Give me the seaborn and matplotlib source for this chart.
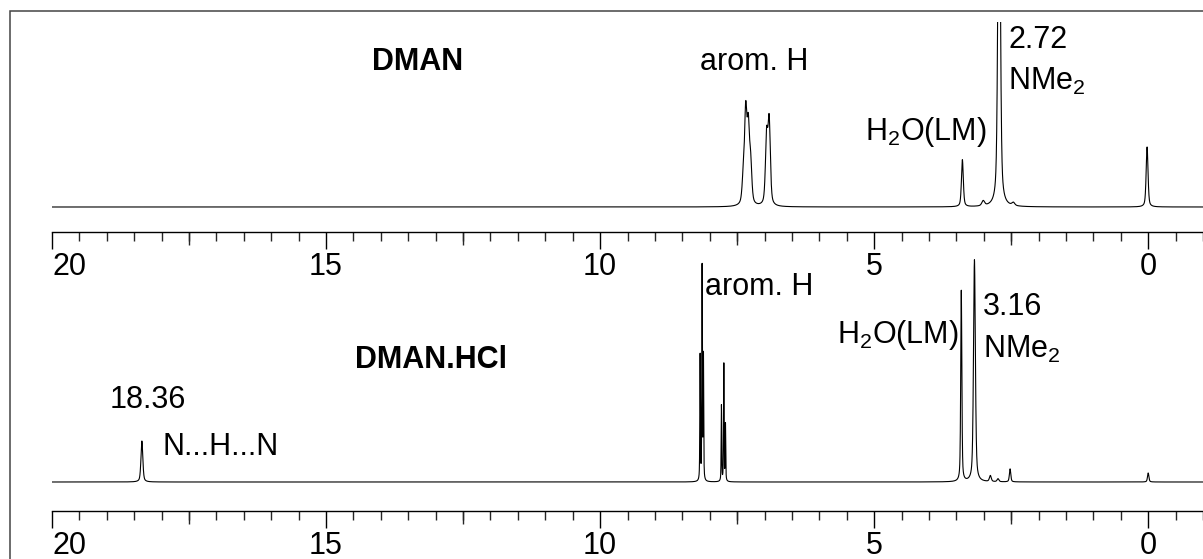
import numpy as np
import pandas as pd
import matplotlib
matplotlib.use("Agg")
import matplotlib.pyplot as plt
import seaborn as sns
from matplotlib.ticker import MultipleLocator, FixedLocator
from matplotlib.patches import Rectangle

# ---- data: peak lists (shift in ppm, height, half-width) ----
dman_shift = [7.387, 7.343, 7.296, 7.253, 6.962, 6.915, 3.39, 3.01, 2.72, 2.46, 0.02]
dman_height = [25, 89, 72, 38, 67, 82, 47, 5, 420, 3, 60]
dman_width = [0.025, 0.025, 0.025, 0.025, 0.025, 0.025, 0.02, 0.03, 0.025, 0.03, 0.02]

hcl_shift = [18.36, 8.175, 8.139, 8.115, 7.786, 7.743, 7.713, 3.41, 3.17, 2.88, 2.74, 2.52, 0.0]
hcl_height = [41, 128, 218, 126, 76, 120, 58, 191, 222, 6, 3, 13, 9]
hcl_width = [0.02, 0.006, 0.006, 0.006, 0.006, 0.006, 0.006, 0.012, 0.02, 0.02, 0.02, 0.015, 0.015]

major_ticks = [20, 15, 10, 5, 0]
tick_labels = ["20", "15", "10", "5", "0"]
medium_ticks = [17.5, 12.5, 7.5, 2.5]

ppm = np.arange(20.0, -1.0, -0.002)


def spectrum(shifts, heights, widths, eta=0.5):
    y = np.zeros_like(ppm)
    for s, h, w in zip(shifts, heights, widths):
        u = (ppm - s) / w
        y += h * (eta / (1.0 + u ** 2) + (1 - eta) * np.exp(-np.log(2) * u ** 2))
    return y


df_top = pd.DataFrame({"ppm": ppm, "I": spectrum(dman_shift, dman_height, dman_width)})
df_bot = pd.DataFrame({"ppm": ppm, "I": spectrum(hcl_shift, hcl_height, hcl_width)})

sns.set_style("white")
plt.rcParams["font.family"] = ["Liberation Sans", "DejaVu Sans"]
plt.rcParams["mathtext.fontset"] = "custom"
plt.rcParams["mathtext.rm"] = "Liberation Sans"
plt.rcParams["mathtext.it"] = "Liberation Sans:italic"
plt.rcParams["mathtext.bf"] = "Liberation Sans:bold"

W, H = 1203, 559
fig = plt.figure(figsize=(W / 100, H / 100), dpi=100)

FS = 22


def make_axes(bottom_px, top_px, baseline_px):
    left = 52 / W
    ax = fig.add_axes([left, 1 - bottom_px / H, 1 - left, (bottom_px - top_px) / H])
    ax.patch.set_alpha(0)
    ax.set_xlim(20, -1.0)
    ax.set_ylim(-(bottom_px - baseline_px), baseline_px - top_px)
    for s in ["left", "right", "top"]:
        ax.spines[s].set_visible(False)
    ax.spines["bottom"].set_linewidth(1.0)
    ax.spines["bottom"].set_color("black")
    ax.set_yticks([])
    ax.set_xticks(major_ticks)
    ax.set_xticklabels(tick_labels, fontsize=FS)
    ax.xaxis.set_minor_locator(MultipleLocator(0.5))
    ax.tick_params(axis="x", which="major", direction="out", length=12, width=1.0,
                   pad=2.4, colors="black", bottom=True)
    ax.tick_params(axis="x", which="minor", direction="out", length=6.5, width=1.0,
                   bottom=True)
    ax.get_xticklabels()[0].set_horizontalalignment("left")
    sec = ax.secondary_xaxis("bottom")
    sec.spines["bottom"].set_visible(False)
    sec.xaxis.set_major_locator(FixedLocator(medium_ticks))
    sec.tick_params(axis="x", which="major", direction="out", length=9.5, width=1.0,
                    labelbottom=False)
    sec.xaxis.set_minor_locator(FixedLocator([]))
    return ax


ax1 = make_axes(232, 22, 207)
sns.lineplot(data=df_top, x="ppm", y="I", ax=ax1, color="black", linewidth=0.8,
             estimator=None, sort=False)
ax1.set_xlabel("")
ax1.set_ylabel("")

ax2 = make_axes(511, 250, 482)
sns.lineplot(data=df_bot, x="ppm", y="I", ax=ax2, color="black", linewidth=0.8,
             estimator=None, sort=False)
ax2.set_xlabel("")
ax2.set_ylabel("")

kw = dict(ha="left", va="baseline", fontsize=FS, color="black")
# top panel labels
ax1.text(14.16, 137, "DMAN", fontweight="bold", **kw)
ax1.text(8.18, 137, "arom. H", **kw)
ax1.text(2.55, 159, "2.72", **kw)
ax1.text(2.55, 117, r"NMe$_2$", **kw)
ax1.text(5.16, 67, r"H$_2$O(LM)", **kw)

# bottom panel labels
ax2.text(8.08, 187, "arom. H", **kw)
ax2.text(3.01, 167, "3.16", **kw)
ax2.text(3.01, 124, r"NMe$_2$", **kw)
ax2.text(5.68, 139, r"H$_2$O(LM)", **kw)
ax2.text(14.47, 114, "DMAN.HCl", fontweight="bold", **kw)
ax2.text(18.94, 74, "18.36", **kw)
ax2.text(17.99, 27, "N...H...N", **kw)

# outer frame
fig.patches.append(Rectangle((10 / W, -0.2), 1.2, 1 - 11 / H + 0.2, fill=False,
                             edgecolor="#444444", linewidth=1.1,
                             transform=fig.transFigure, figure=fig))

fig.savefig("out.png", dpi=100)
